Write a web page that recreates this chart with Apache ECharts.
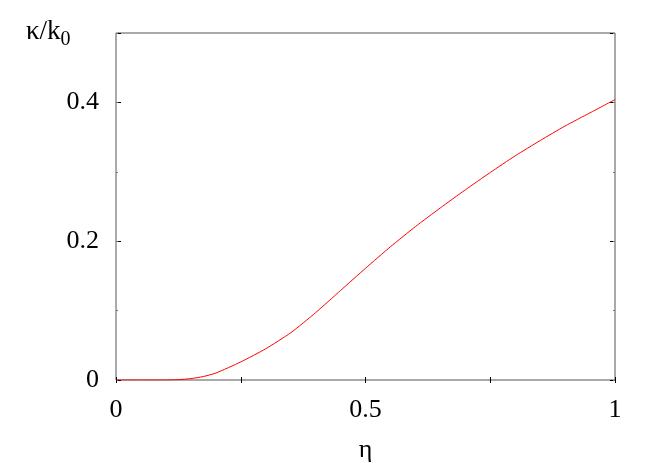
<!DOCTYPE html>
<html>
<head>
<meta charset="utf-8">
<script src="https://cdn.jsdelivr.net/npm/echarts@6/dist/echarts.min.js"></script>
<style>
  html, body { margin: 0; padding: 0; background: #fff; }
  #chart { width: 662px; height: 463px; }
</style>
</head>
<body>
<div id="chart"></div>
<script>
// eta values and kappa/k0
var eta = [0, 0.05, 0.1, 0.125, 0.15, 0.175, 0.2, 0.25, 0.3, 0.35, 0.4, 0.45, 0.5,
           0.55, 0.6, 0.65, 0.7, 0.75, 0.8, 0.85, 0.9, 0.95, 1.0];
var kappa = [0, 0, 0, 0.0005, 0.002, 0.005, 0.010, 0.026, 0.045, 0.068, 0.097, 0.129, 0.161,
             0.192, 0.221, 0.248, 0.274, 0.299, 0.323, 0.345, 0.366, 0.385, 0.404];
var xLabels = [0, 0.5, 1];
var yLabels = [0, 0.2, 0.4];

var serif = "'Liberation Serif', 'Times New Roman', serif";
var points = eta.map(function (x, i) { return [x, kappa[i]]; });

function yAxisDef(pos, interval, len, color, labels) {
  return {
    type: 'value', position: pos, min: 0, max: 0.5, interval: interval,
    axisLine: { show: false },
    splitLine: { show: false },
    axisTick: { show: true, inside: true, length: len, lineStyle: { color: color, width: 1 } },
    axisLabel: {
      show: labels, margin: 17, color: '#000', fontFamily: serif, fontSize: 26,
      formatter: function (v) {
        var r = Math.round(v * 10) / 10;
        return yLabels.indexOf(r) >= 0 ? String(r) : '';
      }
    }
  };
}

var chart = echarts.init(document.getElementById('chart'));
var option = {
  animation: false,
  grid: {
    left: 116, right: 47, top: 33, bottom: 83, outerBoundsMode: 'none',
    show: true, borderColor: '#555', borderWidth: 1
  },
  xAxis: [
    {
      type: 'value', position: 'bottom', min: 0, max: 1, interval: 0.25,
      name: 'η', nameLocation: 'middle', nameGap: 57,
      nameTextStyle: { color: '#000', fontFamily: serif, fontSize: 26 },
      axisLine: { show: false }, splitLine: { show: false },
      axisTick: { show: true, inside: true, length: 3, lineStyle: { color: '#000' } },
      axisLabel: {
        margin: 17, color: '#000', fontFamily: serif, fontSize: 26,
        formatter: function (v) { return xLabels.indexOf(v) >= 0 ? String(v) : ''; }
      }
    },
    {
      type: 'value', position: 'top', min: 0, max: 1, interval: 0.25,
      axisLine: { show: false }, splitLine: { show: false },
      axisTick: { show: true, inside: true, length: 3, lineStyle: { color: '#000' } },
      axisLabel: { show: false }
    }
  ],
  yAxis: [
    yAxisDef('left', 0.2, 5, '#000', true),
    yAxisDef('left', 0.1, 2, '#777', false),
    yAxisDef('right', 0.2, 5, '#000', false),
    yAxisDef('right', 0.1, 2, '#777', false)
  ],
  graphic: [
    {
      type: 'text', left: 26, top: 18,
      style: {
        text: '{a|κ/k}{s|0}',
        rich: {
          a: { fontFamily: serif, fontSize: 27, fill: '#000' },
          s: { fontFamily: serif, fontSize: 20, fill: '#000', padding: [16, 0, 0, 0] }
        }
      }
    }
  ],
  series: [
    {
      type: 'line', xAxisIndex: 0, yAxisIndex: 0,
      data: points, showSymbol: false, smooth: 0.2,
      lineStyle: { color: '#ff0000', width: 1 }
    }
  ]
};
chart.setOption(option);
</script>
</body>
</html>
